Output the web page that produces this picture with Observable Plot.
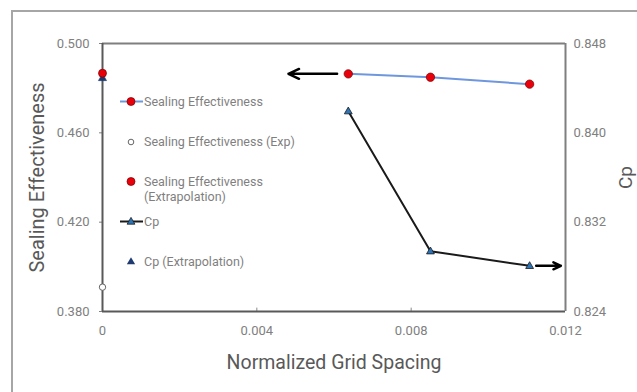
<!DOCTYPE html>
<html>
<head>
<meta charset="utf-8">
<script src="https://cdn.jsdelivr.net/npm/d3@7"></script>
<script src="https://cdn.jsdelivr.net/npm/@observablehq/plot@0.6"></script>
<style>
  html, body { margin: 0; padding: 0; background: #fff; }
  #chart { position: relative; width: 637px; height: 392px; overflow: hidden; }
  #frame { position: absolute; left: 11px; top: 10px; width: 640px; height: 400px; border: 2px solid #a6a6a6; box-sizing: border-box; pointer-events: none; }
</style>
</head>
<body>
<div id="chart"><div id="frame"></div></div>
<script>
// ---- data ----
const gridSpacing = [0.00637, 0.0085, 0.01107];
const sealingEff = [0.4864, 0.4849, 0.4818];
const cpValues = [0.84194, 0.8294, 0.82809];
const sealingExpX = [0];
const sealingExpY = [0.3909];
const sealingExtrapX = [0];
const sealingExtrapY = [0.4867];
const cpExtrapX = [0];
const cpExtrapY = [0.84493];
const xTicks = [0, 0.004, 0.008, 0.012];
const yLeftTicks = [0.380, 0.420, 0.460, 0.500];
const yRightTicks = [0.824, 0.832, 0.840, 0.848];
const legendLabels = ["Sealing Effectiveness", "Sealing Effectiveness (Exp)", "Sealing Effectiveness\n(Extrapolation)", "Cp", "Cp (Extrapolation)"];
// annotation arrows in data units
const arrowsData = [
  {x1: 0.00608, y1: 0.4864, x2: 0.00482, y2: 0.4864},
  {x1: 0.01124, cp1: 0.82809, x2: 0.01188, cp2: 0.82809}
];

// map Cp (right axis) to left scale
const cpToLeft = v => 0.380 + (v - 0.824) * (0.120 / 0.024);
const leftToCp = v => 0.824 + (v - 0.380) * (0.024 / 0.120);

const se = gridSpacing.map((x, i) => ({x, y: sealingEff[i]}));
const cp = gridSpacing.map((x, i) => ({x, y: cpToLeft(cpValues[i])}));
const seExp = sealingExpX.map((x, i) => ({x, y: sealingExpY[i]}));
const seExt = sealingExtrapX.map((x, i) => ({x, y: sealingExtrapY[i]}));
const cpExt = cpExtrapX.map((x, i) => ({x, y: cpToLeft(cpExtrapY[i])}));
const arrows = arrowsData.map(a => a.y1 !== undefined ? a : {x1: a.x1, y1: cpToLeft(a.cp1), x2: a.x2, y2: cpToLeft(a.cp2)});

const tickColor = "#808080";
const font = "Roboto, 'Open Sans', sans-serif";

// size is area (r^2 * pi)
const tri = {draw(ctx, size) { const s = Math.sqrt(size / Math.PI) * 1.25; ctx.moveTo(0, -s); ctx.lineTo(s * 0.95, s * 0.65); ctx.lineTo(-s * 0.95, s * 0.65); ctx.closePath(); }};

const plot = Plot.plot({
  width: 637,
  height: 392,
  marginLeft: 102,
  marginRight: 72,
  marginTop: 43,
  marginBottom: 81,
  style: {fontFamily: font, fontSize: "13px", background: "transparent", overflow: "visible"},
  x: {domain: [0, 0.012]},
  y: {domain: [0.380, 0.500]},
  marks: [
    Plot.axisX({ticks: xTicks, tickFormat: d => d === 0 ? "0" : d3.format(".3f")(d), tickSize: 0, tickPadding: 14, color: tickColor, fontSize: 13, label: null}),
    Plot.axisY({anchor: "left", ticks: yLeftTicks, tickFormat: d3.format(".3f"), tickSize: 3, tickPadding: 10, color: tickColor, fontSize: 13, label: null}),
    Plot.axisY({anchor: "right", ticks: yRightTicks.map(cpToLeft), tickFormat: d => d3.format(".3f")(leftToCp(d)), tickSize: 0, tickPadding: 8, color: tickColor, fontSize: 13, label: null}),
    Plot.ruleX(xTicks.slice(1, 3), {x: d => d, y1: 0.380, y2: 0.3815, stroke: "#888"}),
    Plot.ruleY([0.380], {stroke: "#595959", strokeWidth: 2}),
    Plot.ruleY([0.500], {stroke: "#7f7f7f", strokeWidth: 2}),
    Plot.ruleX([0], {stroke: "#595959", strokeWidth: 2}),
    Plot.ruleX([0.012], {stroke: "#7f7f7f", strokeWidth: 2}),
    Plot.line(se, {x: "x", y: "y", stroke: "#6f97dd", strokeWidth: 2}),
    Plot.line(cp, {x: "x", y: "y", stroke: "#1a1a1a", strokeWidth: 2}),
    Plot.dot(seExp, {x: "x", y: "y", r: 3.2, stroke: "#666", strokeWidth: 1, fill: "white"}),
    Plot.dot(cpExt, {x: "x", y: "y", symbol: tri, r: 3.5, fill: "#1f3a70", stroke: "#1f3a70", strokeWidth: 0.5}),
    Plot.dot(seExt, {x: "x", y: "y", r: 4, fill: "#e8000b", stroke: "#700", strokeWidth: 0.7}),
    Plot.dot(se, {x: "x", y: "y", r: 4.2, fill: "#e8000b", stroke: "#700", strokeWidth: 0.7}),
    Plot.dot(cp, {x: "x", y: "y", symbol: tri, r: 3.3, fill: "#2e75b6", stroke: "#1a1a1a", strokeWidth: 0.8}),
    Plot.arrow(arrows, {x1: "x1", y1: "y1", x2: "x2", y2: "y2", stroke: "black", strokeWidth: 2.5, headLength: 7, headAngle: 50}),
    Plot.text(["Normalized Grid Spacing"], {frameAnchor: "bottom", dy: 51, lineAnchor: "middle", fontSize: 19.5, fill: "#595959"}),
    Plot.text(["Sealing Effectiveness"], {frameAnchor: "left", dx: -65, rotate: -90, textAnchor: "middle", lineAnchor: "middle", fontSize: 20, fill: "#595959"}),
    Plot.text(["Cp"], {frameAnchor: "right", dx: 60, rotate: -90, textAnchor: "middle", lineAnchor: "middle", fontSize: 19, fill: "#595959"})
  ]
});

document.getElementById("chart").prepend(plot);

// legend inside the plot area
const svg = d3.select(plot);
const lg = svg.append("g").attr("font-family", font).attr("font-size", 12.5).attr("fill", "#7f7f7f").attr("text-anchor", "start");
const rows = [101.5, 142, 181.5, 221.5, 261.5];
const sx = 131;
lg.append("line").attr("x1", 120).attr("x2", 143).attr("y1", rows[0]).attr("y2", rows[0]).attr("stroke", "#6f97dd").attr("stroke-width", 2);
lg.append("circle").attr("cx", sx).attr("cy", rows[0]).attr("r", 4).attr("fill", "#e8000b").attr("stroke", "#700").attr("stroke-width", 0.7);
lg.append("circle").attr("cx", sx).attr("cy", rows[1]).attr("r", 2.8).attr("fill", "white").attr("stroke", "#666");
lg.append("circle").attr("cx", sx).attr("cy", rows[2]).attr("r", 4).attr("fill", "#e8000b").attr("stroke", "#700").attr("stroke-width", 0.7);
lg.append("line").attr("x1", 120).attr("x2", 143).attr("y1", rows[3]).attr("y2", rows[3]).attr("stroke", "#1a1a1a").attr("stroke-width", 2);
lg.append("path").attr("transform", `translate(${sx},${rows[3]})`).attr("d", d3.symbol(tri, 3.3 * 3.3 * Math.PI)()).attr("fill", "#2e75b6").attr("stroke", "#1a1a1a").attr("stroke-width", 0.8);
lg.append("path").attr("transform", `translate(${sx},${rows[4]})`).attr("d", d3.symbol(tri, 3.5 * 3.5 * Math.PI)()).attr("fill", "#1f3a70");
legendLabels.forEach((lab, i) => {
  const t = lg.append("text").attr("x", 144).attr("y", rows[i]);
  lab.split("\n").forEach((ln, j) => t.append("tspan").attr("x", 144).attr("dy", j === 0 ? "0.35em" : "1.2em").text(ln));
});
</script>
</body>
</html>
